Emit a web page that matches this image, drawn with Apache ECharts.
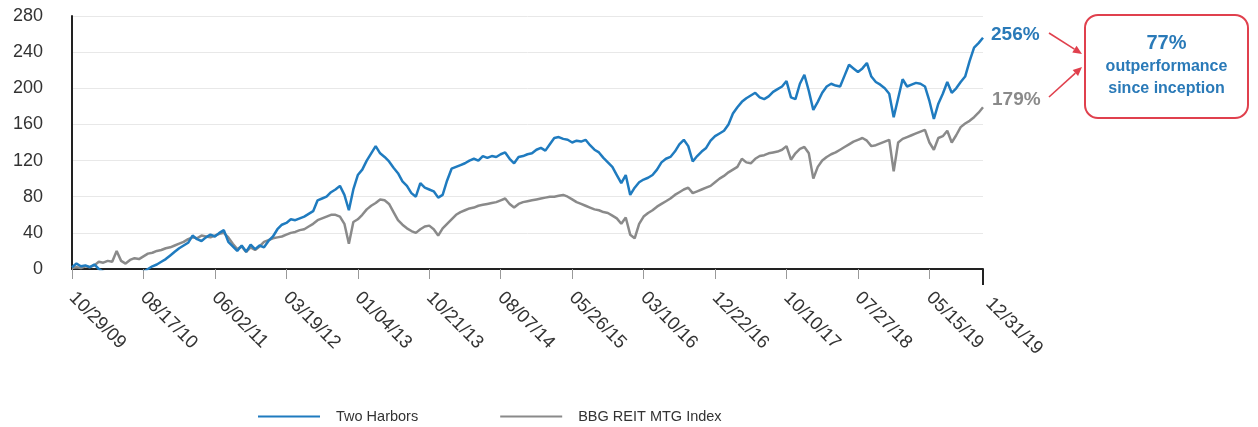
<!DOCTYPE html>
<html><head><meta charset="utf-8">
<script src="https://cdn.jsdelivr.net/npm/echarts@6/dist/echarts.min.js"></script>
<style>html,body{margin:0;padding:0;background:#fff}#c{width:1258px;height:427px}</style>
</head><body><div id="c"></div>
<script>
// x-axis tick labels (one every 16 samples, plus the final date)
const tickLabels = ['10/29/09','08/17/10','06/02/11','03/19/12','01/04/13','10/21/13','08/07/14','05/26/15','03/10/16','12/22/16','10/10/17','07/27/18','05/15/19','12/31/19'];
const tickStep = 16;
const seriesNames = ['Two Harbors', 'BBG REIT MTG Index'];
// cumulative total return (%), sampled along the period
const twoHarbors = [2,6,3,4,2,5,0,-3,-5,-4,-6,-5,-4,-6,-5,-4,-3,0,3,5,8,11,15,19,23,26,29,37,33,31,35,38,36,40,43,30,25,20,26,19,27,22,26,24,31,36,44,49,51,55,54,56,58,61,64,76,78,80,85,88,92,82,65,88,104,110,120,128,136,128,124,119,112,106,97,92,84,80,95,90,88,86,79,82,98,111,113,115,117,120,122,120,125,123,125,124,127,129,122,117,124,125,127,128,132,134,131,138,145,146,144,143,140,142,141,143,137,132,129,123,118,113,104,95,104,82,90,96,99,101,104,110,118,122,124,130,138,143,136,119,125,130,134,142,147,150,153,160,172,179,185,189,192,195,190,188,191,196,199,202,208,190,188,205,215,197,176,185,195,202,205,203,202,214,226,222,218,222,228,213,207,204,200,194,168,189,210,202,204,206,205,202,186,166,183,194,207,195,200,207,213,230,245,250,256];
const bbgIndex = [1,2,1,3,2,4,8,7,9,8,20,9,6,10,12,11,14,17,18,20,21,23,24,26,28,30,33,35,34,37,36,35,37,39,40,35,28,22,25,19,24,21,25,30,32,34,35,36,38,40,41,43,44,47,50,54,56,58,60,60,58,50,28,52,55,60,66,70,73,77,76,72,63,54,49,45,42,40,44,47,48,44,37,45,50,55,60,63,65,67,68,70,71,72,73,74,76,78,72,68,72,74,75,76,77,78,79,80,80,81,82,80,77,74,72,70,68,66,65,63,62,59,56,50,57,38,34,50,58,62,65,69,72,75,78,82,85,88,90,84,86,88,90,92,96,100,103,107,110,113,122,118,117,122,125,126,128,129,130,132,136,121,128,133,135,128,100,113,120,124,127,129,132,135,138,141,143,145,142,136,137,139,141,143,108,140,144,146,148,150,152,154,140,132,145,147,153,140,148,157,161,164,168,173,179];
const endLabelTexts = ['256%', '179%'];
const boxLines = ['77%', 'outperformance', 'since inception'];
const yTickValues = [0, 40, 80, 120, 160, 200, 240, 280];

const BLUE = '#1f7bbf', GRAY = '#8a8a8a', RED = '#e0404d', TXTBLUE = '#2a7ab8';
const FONT = '"Liberation Sans", Arial, sans-serif';

const categories = twoHarbors.map((_, i) => String(i));
const lastIdx = categories.length - 1;
function labelAt(i) {
  if (i === lastIdx) return tickLabels[tickLabels.length - 1];
  if (i % tickStep === 0 && i / tickStep < tickLabels.length - 1) return tickLabels[i / tickStep];
  return '';
}

const chart = echarts.init(document.getElementById('c'), null, {renderer: 'canvas'});
const option = {
  animation: false,
  backgroundColor: '#fff',
  grid: {left: 72, right: 275, top: 16, bottom: 158, containLabel: false},
  legend: {
    data: seriesNames, left: 258, top: 409, padding: 0, icon: 'rect', itemWidth: 62, itemHeight: 2, itemGap: 82,
    textStyle: {fontSize: 14.5, color: '#333', fontFamily: FONT, padding: [0, 0, 0, 11]}
  },
  xAxis: {
    type: 'category', data: categories, boundaryGap: false,
    axisLine: {show: true, lineStyle: {color: '#222', width: 2}},
    axisTick: {show: true, length: 10, lineStyle: {color: '#999', width: 1},
      interval: (i) => i % tickStep === 0 && i !== lastIdx},
    axisLabel: {
      show: true, rotate: -45, margin: 26, color: '#333', fontSize: 18.5, fontFamily: FONT,
      interval: (i) => labelAt(i) !== '',
      formatter: (v, i) => i === lastIdx ? '{e|' + labelAt(i) + '}' : labelAt(i),
      rich: {e: {fontSize: 18.5, color: '#333', fontFamily: FONT, padding: [0, 0, 0, 8]}}
    },
    splitLine: {show: false}
  },
  yAxis: {
    type: 'value', min: yTickValues[0], max: yTickValues[yTickValues.length - 1], interval: 40,
    axisLine: {show: true, lineStyle: {color: '#222', width: 2}},
    axisTick: {show: false},
    axisLabel: {color: '#333', fontSize: 18, fontFamily: FONT, margin: 29},
    splitLine: {show: true, lineStyle: {color: '#e8e8e8', width: 1}}
  },
  series: [
    {
      name: seriesNames[1], type: 'line', data: bbgIndex, showSymbol: false, symbol: 'none', z: 2,
      lineStyle: {color: GRAY, width: 2.5}, itemStyle: {color: GRAY},
      endLabel: {show: true, formatter: endLabelTexts[1], color: GRAY, fontWeight: 'bold', fontSize: 19, fontFamily: FONT, distance: 9, offset: [0, -7]}
    },
    {
      name: seriesNames[0], type: 'line', data: twoHarbors, showSymbol: false, symbol: 'none', z: 3,
      lineStyle: {color: BLUE, width: 2.5}, itemStyle: {color: BLUE},
      endLabel: {show: true, formatter: endLabelTexts[0], color: TXTBLUE, fontWeight: 'bold', fontSize: 19, fontFamily: FONT, distance: 8, offset: [0, -3]}
    }
  ]
};
chart.setOption(option);

// decorations: end tick, callout box, arrows
const endPt = chart.convertToPixel({xAxisIndex: 0, yAxisIndex: 0}, [lastIdx, 0]);
const boxX = 1085, boxY = 15, boxW = 163, boxH = 103;
function arrow(x1, y1, x2, y2) {
  const dx = x2 - x1, dy = y2 - y1, L = Math.hypot(dx, dy), ux = dx / L, uy = dy / L;
  const bx = x2 - ux * 9, by = y2 - uy * 9, px = -uy * 4, py = ux * 4;
  return [
    {type: 'polyline', shape: {points: [[x1, y1], [bx, by]]}, style: {stroke: RED, lineWidth: 1.6, fill: null}},
    {type: 'polygon', shape: {points: [[x2, y2], [bx + px, by + py], [bx - px, by - py]]}, style: {fill: RED}}
  ];
}
const graphic = [
  {type: 'line', shape: {x1: endPt[0], y1: endPt[1], x2: endPt[0], y2: endPt[1] + 16}, style: {stroke: '#222', lineWidth: 2}},
  {type: 'rect', shape: {x: boxX, y: boxY, width: boxW, height: boxH, r: 13}, style: {fill: '#fff', stroke: RED, lineWidth: 2}},
  {type: 'text', style: {text: boxLines[0], x: boxX + boxW / 2, y: 43, align: 'center', verticalAlign: 'middle', fontSize: 20, fontWeight: 'bold', fontFamily: FONT, fill: TXTBLUE}},
  {type: 'text', style: {text: boxLines[1], x: boxX + boxW / 2, y: 67, align: 'center', verticalAlign: 'middle', fontSize: 16, fontWeight: 'bold', fontFamily: FONT, fill: TXTBLUE}},
  {type: 'text', style: {text: boxLines[2], x: boxX + boxW / 2, y: 89, align: 'center', verticalAlign: 'middle', fontSize: 16, fontWeight: 'bold', fontFamily: FONT, fill: TXTBLUE}}
].concat(arrow(1049, 33, 1082, 54), arrow(1049, 97, 1082, 67));
chart.setOption({graphic: graphic});
</script>
</body></html>
